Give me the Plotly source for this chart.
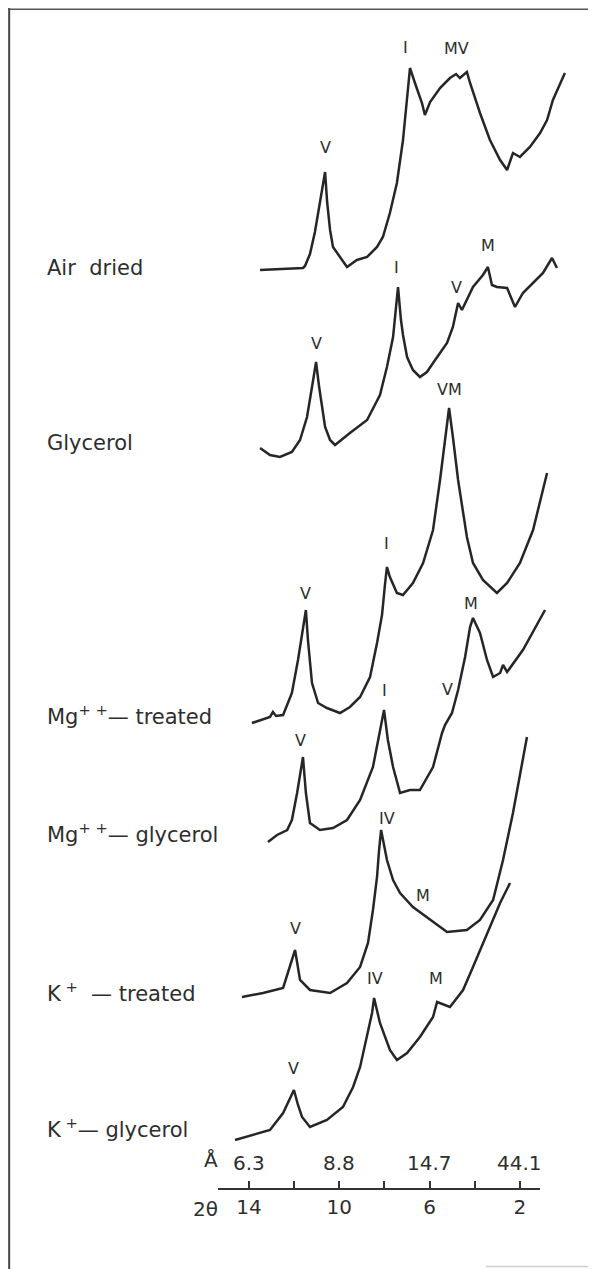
import plotly.graph_objects as go

# ---------------- data (2-theta in degrees, relative intensity) ----------------
sample_names = ["Air  dried", "Glycerol", "Mg<sup>+ +</sup>— treated",
                "Mg<sup>+ +</sup>— glycerol", "K<sup> +</sup>  — treated", "K<sup> +</sup>— glycerol"]

# stacking offsets of each diffractogram (arbitrary intensity units)
offsets = [999, 821, 547, 427, 272, 129]

air_2t = [13.51, 12.63, 11.61, 11.52, 11.30, 11.08, 10.86, 10.63, 10.54, 10.41, 10.28, 9.97, 9.66,
          9.22, 8.77, 8.33, 8.07, 7.76, 7.45, 7.18, 7.00, 6.87, 6.65, 6.34, 6.21, 5.98, 5.54,
          5.10, 4.83, 4.66, 4.35, 4.21, 3.77, 3.33, 2.88, 2.57, 2.31, 2.00, 1.56, 1.11, 0.80,
          0.54, 0.01]
air_int = [0, 1, 2, 4, 16, 38, 67, 98, 68, 40, 23, 13, 3,
           10, 13, 23, 33, 57, 87, 130, 170, 202, 187, 167, 155, 168, 182,
           192, 196, 192, 198, 187, 157, 130, 110, 100, 117, 113, 123, 137, 150,
           170, 197]

gly_2t = [13.51, 13.07, 12.63, 12.10, 11.74, 11.43, 11.21, 11.03, 10.90, 10.74, 10.63, 10.41,
          10.19, 9.53, 8.77, 8.20, 7.89, 7.62, 7.49, 7.40, 7.27, 7.18, 7.00, 6.74, 6.43, 6.12,
          5.85, 5.23, 4.97, 4.74, 4.57, 4.08, 3.64, 3.42, 3.24, 3.02, 2.57, 2.22, 1.87, 1.42,
          0.98, 0.58, 0.36]
gly_int = [0, -7, -9, -4, 8, 31, 61, 86, 62, 35, 21, 8,
           3, 15, 28, 53, 81, 111, 138, 161, 128, 113, 91, 78, 71, 76,
           85, 105, 121, 145, 138, 161, 173, 181, 163, 161, 160, 141, 155, 165,
           175, 190, 180]

mgt_2t = [13.87, 13.07, 12.94, 12.80, 12.49, 12.10, 11.83, 11.61, 11.48, 11.39, 11.21, 10.94,
          10.55, 9.97, 9.53, 9.08, 8.64, 8.33, 8.11, 7.98, 7.89, 7.76, 7.45, 7.18, 6.74, 6.29,
          5.85, 5.54, 5.32, 5.14, 4.97, 4.74, 4.35, 4.08, 3.64, 3.02, 2.57, 2.00, 1.42, 0.80]
mgt_int = [-1, 5, 10, 6, 7, 29, 62, 95, 112, 82, 39, 19,
           14, 9, 15, 25, 45, 79, 107, 137, 155, 145, 129, 127, 139, 159,
           192, 242, 282, 314, 285, 242, 185, 159, 142, 129, 139, 159, 192, 249]

mgg_2t = [13.16, 12.76, 12.31, 12.10, 11.87, 11.61, 11.48, 11.30, 10.86, 10.28, 9.66, 9.08,
          8.51, 8.20, 8.02, 7.85, 7.62, 7.31, 6.87, 6.43, 5.85, 5.45, 5.32, 5.01, 4.74, 4.43,
          4.21, 4.08, 3.90, 3.77, 3.46, 3.19, 2.88, 2.75, 2.57, 1.87, 0.89]
mgg_int = [0, 7, 12, 22, 49, 85, 49, 19, 12, 14, 22, 42,
           75, 109, 132, 102, 75, 49, 52, 52, 75, 109, 117, 129, 152, 185,
           215, 224, 215, 209, 182, 165, 169, 177, 170, 192, 232]

kt_2t = [14.31, 13.38, 12.49, 12.27, 11.96, 11.74, 11.30, 10.41, 9.66, 9.08, 8.73, 8.51,
         8.33, 8.24, 8.15, 8.02, 7.89, 7.62, 7.31, 6.74, 6.12, 5.67, 5.23, 4.35, 3.77, 3.19,
         2.75, 2.31, 1.87, 1.69]
kt_int = [0, 4, 9, 24, 47, 17, 7, 4, 14, 30, 54, 87,
          120, 147, 167, 152, 137, 117, 104, 90, 80, 72, 65, 67, 77, 97,
          137, 184, 237, 260]

kg_2t = [14.62, 13.82, 13.07, 12.49, 12.23, 12.01, 11.83, 11.65, 11.30, 10.55, 9.84, 9.39,
         9.08, 8.77, 8.55, 8.46, 8.20, 7.76, 7.45, 7.00, 6.43, 5.85, 5.67, 5.10, 4.52, 4.08,
         3.64, 3.33, 2.88, 2.44]
kg_int = [0, 5, 10, 27, 40, 50, 35, 23, 13, 20, 33, 53,
          73, 103, 127, 142, 117, 90, 80, 87, 103, 123, 138, 133, 150, 173,
          197, 213, 237, 257]

series_2t = [air_2t, gly_2t, mgt_2t, mgg_2t, kt_2t, kg_2t]
series_int = [air_int, gly_int, mgt_int, mgg_int, kt_int, kg_int]

# peak identification letters: (pattern index, 2-theta, intensity above offset, text)
peak_idx = [0, 0, 0, 1, 1, 1, 1, 2, 2, 2, 3, 3, 3, 3, 4, 4, 4, 5, 5, 5]
peak_2t = [10.63, 7.05, 4.79, 11.03, 7.45, 4.79, 3.42, 11.52, 7.93, 5.14,
           11.74, 8.02, 5.23, 4.17, 11.92, 7.89, 6.29, 12.01, 8.42, 5.72]
peak_h = [123, 223, 222, 105, 181, 161, 203, 129, 179, 333,
          102, 152, 153, 239, 69, 179, 102, 72, 162, 162]
peak_txt = ["V", "I", "MV", "V", "I", "V", "M", "V", "I", "VM",
            "V", "I", "V", "M", "V", "IV", "M", "V", "IV", "M"]

# scale: 2-theta ticks and matching d-spacings (Angstrom)
two_theta_ticks = [14, 10, 6, 2]
two_theta_labels = ["14", "10", "6", "2"]
two_theta_minor = [12, 8, 4]
d_ticks = [14, 10, 6, 2]
d_labels = ["6.3", "8.8", "14.7", "44.1"]

# ---------------- figure ----------------
PAGE_OFF = 8                     # default body margin of the html page
W, H = 596 - PAGE_OFF, 1269 - PAGE_OFF
FONT = "DejaVu Sans"
INK = "#262626"
TXT = "#2e2e2e"


def pxx(X):
    return (X - PAGE_OFF) / W


def pxy(Y):
    return 1 - (Y - PAGE_OFF) / H


px_per_deg = 22.58
tt_at_249 = 14.0


def tt(X):
    return tt_at_249 - (X - 249) / px_per_deg


fig = go.Figure()
for xs, ys, off in zip(series_2t, series_int, offsets):
    fig.add_trace(go.Scatter(x=xs, y=[v + off for v in ys], mode="lines",
                             line=dict(color=INK, width=2.5), hoverinfo="skip",
                             showlegend=False))

# dummy trace so the scale axis is drawn
fig.add_trace(go.Scatter(x=[None], y=[None], xaxis="x2", yaxis="y", showlegend=False,
                         hoverinfo="skip"))

annotations = []
for i, t, h, s in zip(peak_idx, peak_2t, peak_h, peak_txt):
    annotations.append(dict(x=t, y=offsets[i] + h, xref="x", yref="y", text=s,
                            showarrow=False, font=dict(family=FONT, size=16, color=TXT),
                            xanchor="center", yanchor="middle"))

label_y_px = [268, 443, 715, 833, 992, 1128]
for name, py in zip(sample_names, label_y_px):
    annotations.append(dict(x=pxx(45), y=pxy(py), xref="paper", yref="paper", text=name,
                            showarrow=False, xanchor="left", yanchor="middle",
                            font=dict(family=FONT, size=21, color=TXT)))

for t, s in zip(d_ticks, d_labels):
    annotations.append(dict(x=t, y=pxy(1163), xref="x", yref="paper", text=s, showarrow=False,
                            xanchor="center", yanchor="middle",
                            font=dict(family=FONT, size=20, color=TXT)))
annotations.append(dict(x=pxx(211), y=pxy(1160), xref="paper", yref="paper", text="Å",
                        showarrow=False, xanchor="center", yanchor="middle",
                        font=dict(family=FONT, size=20, color=TXT)))
annotations.append(dict(x=pxx(205), y=pxy(1209), xref="paper", yref="paper", text="2θ",
                        showarrow=False, xanchor="center", yanchor="middle",
                        font=dict(family=FONT, size=20, color=TXT)))

shapes = [
    dict(type="line", xref="paper", yref="paper", x0=0.002, x1=0.002, y0=0, y1=1,
         line=dict(color="#444", width=2)),
    dict(type="line", xref="paper", yref="paper", x0=0, x1=pxx(591), y0=0.999, y1=0.999,
         line=dict(color="#555", width=1.5)),
    dict(type="line", xref="paper", yref="paper", x0=pxx(590), x1=pxx(590), y0=0, y1=pxy(340),
         line=dict(color="#d4d4d4", width=1)),
    dict(type="line", xref="paper", yref="paper", x0=pxx(486), x1=pxx(590), y0=0.002, y1=0.002,
         line=dict(color="#cfcfcf", width=1.5)),
]

fig.update_layout(
    width=W, height=H,
    margin=dict(l=0, r=0, t=0, b=0, pad=0),
    paper_bgcolor="white", plot_bgcolor="rgba(0,0,0,0)",
    xaxis=dict(range=[tt(PAGE_OFF), tt(596)], visible=False, domain=[0, 1], fixedrange=True),
    yaxis=dict(range=[0, H], visible=False, fixedrange=True),
    xaxis2=dict(range=[tt(218), tt(540)],
                domain=[pxx(218), pxx(540)], anchor="free", position=pxy(1189),
                showline=True, linecolor="#333", linewidth=2,
                ticks="inside", ticklen=7, tickwidth=1.5, tickcolor="#333",
                tickvals=two_theta_ticks, ticktext=two_theta_labels,
                minor=dict(tickvals=two_theta_minor, ticks="inside", ticklen=7,
                           tickwidth=1.5, tickcolor="#333", showgrid=False),
                tickfont=dict(family=FONT, size=20, color=TXT),
                showgrid=False, zeroline=False, fixedrange=True),
    annotations=annotations,
    shapes=shapes,
)

fig.write_html("out.html")
